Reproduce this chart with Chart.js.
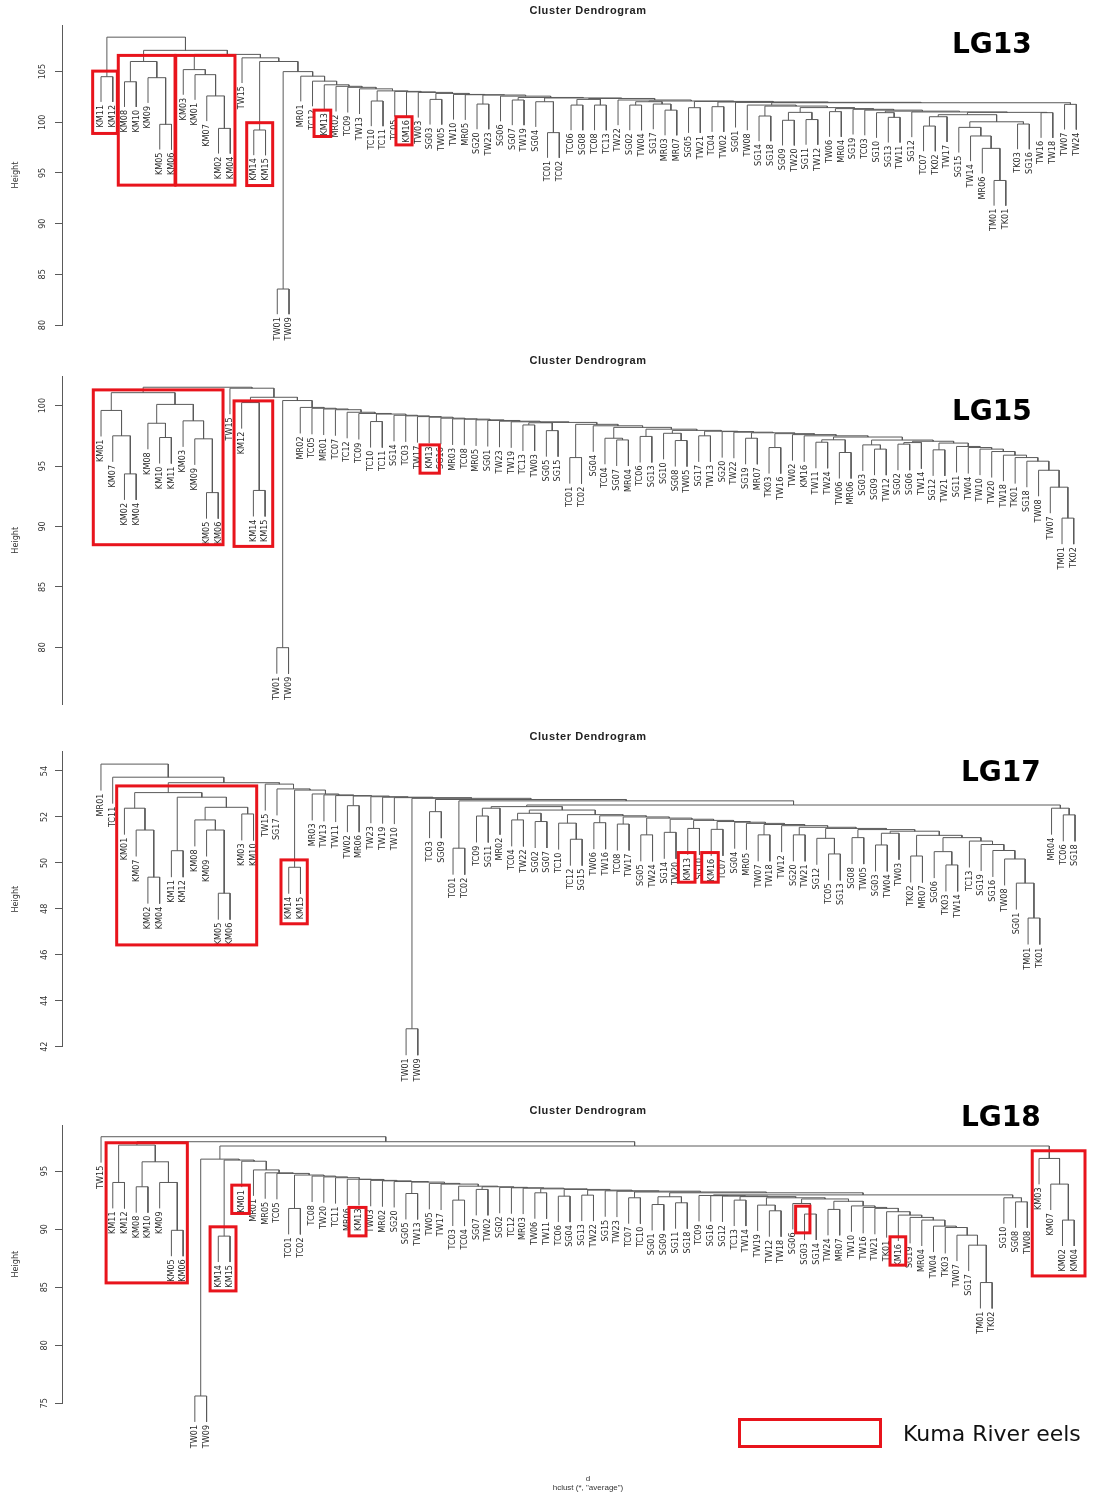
<!DOCTYPE html>
<html><head><meta charset="utf-8">
<script src="https://cdn.jsdelivr.net/npm/chart.js@4.4.1/dist/chart.umd.min.js"></script>
<style>
html,body{margin:0;padding:0;background:#fff;}
#wrap{position:relative;width:1093px;height:1494px;overflow:hidden;background:#fff;}
canvas{position:absolute;left:0;}
.ttl{position:absolute;left:488px;width:200px;text-align:center;font:bold 11px 'Liberation Sans',Arial,sans-serif;letter-spacing:0.6px;color:#222;line-height:12px;}
.lg{position:absolute;font:bold 28px 'DejaVu Sans',Verdana,sans-serif;color:#000;line-height:28px;}
.sub{position:absolute;left:488px;width:200px;text-align:center;font:8px 'Liberation Sans',Arial,sans-serif;color:#333;line-height:9px;}
#legbox{position:absolute;left:738px;top:1418px;width:138px;height:24px;border:3px solid #e8141c;}
#legtxt{position:absolute;left:903px;top:1420px;font:22px 'DejaVu Sans',Verdana,sans-serif;color:#111;line-height:27px;}
</style></head>
<body><div id="wrap">
<canvas id="c13" width="1093" height="345" style="top:0px"></canvas>
<canvas id="c15" width="1093" height="370" style="top:345px"></canvas>
<canvas id="c17" width="1093" height="380" style="top:715px"></canvas>
<canvas id="c18" width="1093" height="399" style="top:1095px"></canvas>
<div class="ttl" style="top:4px">Cluster Dendrogram</div>
<div class="ttl" style="top:354px">Cluster Dendrogram</div>
<div class="ttl" style="top:730px">Cluster Dendrogram</div>
<div class="ttl" style="top:1104px">Cluster Dendrogram</div>
<div class="lg" style="left:952px;top:30px">LG13</div>
<div class="lg" style="left:952px;top:397px">LG15</div>
<div class="lg" style="left:961px;top:758px">LG17</div>
<div class="lg" style="left:961px;top:1103px">LG18</div>
<div class="sub" style="top:1474px">d</div>
<div class="sub" style="top:1483px">hclust (*, "average")</div>
<div id="legbox"></div>
<div id="legtxt">Kuma River eels</div>
</div>
<script>
// ---------------- DATA ----------------
// Tree notation: "leaf" | [left, right, height] | chain [[item,h],[item,h],...,[lastItem]] = (item1,(item2,(...)))
const lg13Leaves = ["KM11","KM12","KM08","KM10","KM09","KM05","KM06","KM03","KM01","KM07","KM02","KM04","TW15","KM14","KM15","TW01","TW09","MR01","TC12","KM13","MR02","TC09","TW13","TC10","TC11","TC05","KM16","TW03","SG03","TW05","TW10","MR05","SG20","TW23","SG06","SG07","TW19","SG04","TC01","TC02","TC06","SG08","TC08","TC13","TW22","SG02","TW04","SG17","MR03","MR07","SG05","TW21","TC04","TW02","SG01","TW08","SG14","SG18","SG09","TW20","SG11","TW12","TW06","MR04","SG19","TC03","SG10","SG13","TW11","SG12","TC07","TK02","TW17","SG15","TW14","MR06","TM01","TK01","TK03","SG16","TW16","TW18","TW07","TW24"];
const lg13Ticks = [80,85,90,95,100,105];
const lg13KmA = ["KM11","KM12",104.5];
const lg13KmB = [["KM08","KM10",104.0],["KM09",["KM05","KM06",99.8],104.4],106.0];
const lg13KmC = ["KM03",["KM01",["KM07",["KM02","KM04",99.4],102.6],104.7],105.2];
const lg13KmD = ["KM14","KM15",99.24];
const lg13GrpA = [["TC07","TK02",99.63],"TW17",100.55];
const lg13GrpB = [["SG15",["TW14",["MR06",["TM01","TK01",94.26],97.43],98.65],99.5],["TK03","SG16",99.83],100.05];
const lg13GrpEnd = [[lg13GrpA,lg13GrpB,100.75],["TW16","TW18",100.95],100.98];
const lg13Tail = [["TW08",101.7],[["SG14","SG18",100.62],101.6],[[["SG09","TW20",100.2],["SG11","TW12",100.27],100.98],101.45],[["TW06","MR04",101.05],101.35],["SG19",101.28],["TC03",101.2],[["SG10",["SG13","TW11",100.49],100.95],101.1],["SG12",101.02],[lg13GrpEnd]];
const lg13Chain = [[lg13KmA,108.4],[lg13KmB,107.1],[lg13KmC,106.7],["TW15",106.36],[lg13KmD,106.0],[["TW01","TW09",83.55],105.0],["MR01",104.55],["TC12",104.06],["KM13",103.7],["MR02",103.55],["TC09",103.45],["TW13",103.3],[["TC10","TC11",102.1],103.1],["TC05",103.05],["KM16",103.0],["TW03",102.95],[["SG03","TW05",102.26],102.85],["TW10",102.75],["MR05",102.72],[["SG20","TW23",101.8],102.69],["SG06",102.58],[["SG07","TW19",102.2],102.45],[["SG04",["TC01","TC02",98.98],102.03],102.4],[[["TC06","SG08",101.7],["TC08","TC13",101.7],102.26],102.35],["TW22",102.2],[[["SG02","TW04",101.7],["SG17",["MR03","MR07",101.2],101.8],102.03],102.1],[["SG05","TW21",101.44],102.06],[["TC04","TW02",101.54],102.0],["SG01",101.97],[[lg13Tail,["TW07","TW24",101.77],101.93]]];
const lg13Boxes = [[-0.71,1.39,105.05,98.9],[1.47,6.30,106.6,93.8],[6.36,11.40,106.6,93.8],[12.4,14.61,99.96,93.76],[18.13,19.55,101.2,98.6],[25.1,26.47,100.55,97.77]];

const lg15Leaves = ["KM01","KM07","KM02","KM04","KM08","KM10","KM11","KM03","KM09","KM05","KM06","TW15","KM12","KM14","KM15","TW01","TW09","MR02","TC05","MR01","TC07","TC12","TC09","TC10","TC11","SG14","TC03","TW17","KM13","SG16","MR03","TC08","MR05","SG01","TW23","TW19","TC13","TW03","SG05","SG15","TC01","TC02","SG04","TC04","SG07","MR04","TC06","SG13","SG10","SG08","TW05","SG17","TW13","SG20","TW22","SG19","MR07","TK03","TW16","TW02","KM16","TW11","TW24","TW06","MR06","SG03","SG09","TW12","SG02","SG06","TW14","SG12","TW21","SG11","TW04","TW10","TW20","TW18","TK01","SG18","TW08","TW07","TM01","TK02"];
const lg15Ticks = [80,85,90,95,100];
const lg15KmL = [["KM01",["KM07",["KM02","KM04",94.35],97.5],99.6],[["KM08",["KM10","KM11",97.36],98.54],["KM03",["KM09",["KM05","KM06",92.8],97.25],98.74],100.1],101.07];
const lg15KmR = ["KM12",["KM14","KM15",92.98],100.25];
const lg15Head = [[lg15KmL,101.52],["TW15",101.44],[lg15KmR,100.69],[["TW01","TW09",79.97],100.42]];
const lg15Chain = [["MR02",99.85],["TC05",99.78],["MR01",99.72],["TC07",99.66],["TC12",99.45],["TC09",99.35],[["TC10","TC11",98.68],99.3],["SG14",99.2],["TC03",99.15],["TW17",99.09],["KM13",99.04],["SG16",98.96],["MR03",98.9],["TC08",98.88],["MR05",98.82],["SG01",98.77],["TW23",98.71],["TW19",98.66],[[["TC13","TW03",98.4],["SG05","SG15",97.93],98.58],98.61],[["TC01","TC02",95.7],98.45],["SG04",98.33],[["TC04",["SG07","MR04",97.16],97.3],98.2],[["TC06","SG13",97.45],98.05],[["SG10",["SG08","TW05",97.11],97.71],97.95],[["SG17","TW13",97.5],97.88],["SG20",97.85],["TW22",97.8],[["SG19","MR07",97.3],97.75],[["TK03","TW16",96.53],97.68],["TW02",97.6],["KM16",97.5],[[["TW11","TW24",96.97],["TW06","MR06",96.12],97.17],97.4],[["SG03",["SG09","TW12",96.4],96.75],97.15],[[["SG02","SG06",96.81],"TW14",96.94],97.05],[["SG12","TW21",96.34],96.9],["SG11",96.62],["TW04",96.53],["TW10",96.4],["TW20",96.2],["TW18",95.9],["TK01",95.7],["SG18",95.4],["TW08",94.65],["TW07",93.25],[["TM01","TK02",90.69]]];
const lg15Boxes = [[-0.66,10.41,101.3,88.49],[11.35,14.65,100.39,88.35],[27.22,28.87,96.75,94.41]];

const lg17Leaves = ["MR01","TC11","KM01","KM07","KM02","KM04","KM11","KM12","KM08","KM09","KM05","KM06","KM03","KM10","TW15","SG17","KM14","KM15","MR03","TW13","TW11","TW02","MR06","TW23","TW19","TW10","TW01","TW09","TC03","SG09","TC01","TC02","TC09","SG11","MR02","TC04","TW22","SG02","SG07","TC10","TC12","SG15","TW06","TW16","TC08","TW17","SG05","TW24","SG14","TW20","KM13","SG10","KM16","TC07","SG04","MR05","TW07","TW18","TW12","SG20","TW21","SG12","TC05","SG13","SG08","TW05","SG03","TW04","TW03","TK02","MR07","SG06","TK03","TW14","TC13","SG19","SG16","TW08","SG01","TM01","TK01","MR04","TC06","SG18"];
const lg17Ticks = [42,44,46,48,50,52,54];
const lg17KmA = [["KM01",["KM07",["KM02","KM04",49.38],51.43],52.38],[["KM11","KM12",50.53],[["KM08",["KM09",["KM05","KM06",48.68],51.43],51.87],["KM03","KM10",52.13],52.42],52.86],53.06];
const lg17KmB = ["KM14","KM15",49.81];
const lg17Head = [["MR01",54.30],["TC11",53.73],[lg17KmA,53.49],["TW15",53.43],["SG17",53.22],[lg17KmB,53.17],["MR03",53.0],["TW13",52.96],["TW11",52.93],[["TW02","MR06",52.49],52.91],["TW23",52.88],["TW19",52.86],["TW10",52.84],[["TW01","TW09",42.78],52.81],[["TC03","SG09",52.23],52.76],[["TC01","TC02",50.64],52.7]];
const lg17Block = [[[["TC09","SG11",52.04],"MR02",52.38],52.45],[[["TC04","TW22",51.87],["SG02","SG07",51.8],52.16],52.3],[["TC10",["TC12","SG15",51.03],51.73],52.1],[["TW06","TW16",51.75],52.05],[["TC08","TW17",51.69],52.0],[["SG05","TW24",51.22],51.95],[["SG14","TW20",51.33],51.9],[["KM13","SG10",51.5],51.85],[["KM16","TC07",51.46],51.8],["SG04",51.77],["MR05",51.72],[["TW07","TW18",51.22],51.67],["TW12",51.62],[["SG20","TW21",51.22],51.55],[["SG12",["TC05","SG13",50.39],51.07],51.5],[["SG08","TW05",51.1],51.45],[[["SG03","TW04",50.78],"TW03",51.29],51.38],[["TK02","MR07",50.3],51.2],[["SG06",["TK03","TW14",49.91],50.49],51.1],["TC13",50.95],["SG19",50.8],["SG16",50.54],["TW08",50.17],["SG01",49.12],[["TM01","TK01",47.6]]];
const lg17End = [lg17Block,["MR04",["TC06","SG18",52.09],52.38],52.52];
const lg17Boxes = [[1.34,13.27,53.35,46.43],[15.34,17.58,50.13,47.35],[49.2,50.62,50.45,49.16],[51.19,52.6,50.45,49.16]];

const lg18Leaves = ["TW15","KM11","KM12","KM08","KM10","KM09","KM05","KM06","TW01","TW09","KM14","KM15","KM01","MR01","MR05","TC05","TC01","TC02","TC08","TW20","TC11","MR06","KM13","TW03","MR02","SG20","SG05","TW13","TW05","TW17","TC03","TC04","SG07","TW02","SG02","TC12","MR03","TW06","TW11","TC06","SG04","SG13","TW22","SG15","TW23","TC07","TC10","SG01","SG09","SG11","SG18","TC09","SG16","SG12","TC13","TW14","TW19","TW12","TW18","SG06","SG03","SG14","TW24","MR07","TW10","TW16","TW21","TK01","KM16","SG19","MR04","TW04","TK03","TW07","SG17","TM01","TK02","SG10","SG08","TW08","KM03","KM07","KM02","KM04"];
const lg18Ticks = [75,80,85,90,95];
const lg18KmL = [["KM11","KM12",94.02],[["KM08","KM10",93.65],["KM09",["KM05","KM06",89.9],94.02],95.8],97.24];
const lg18KmM = ["KM14","KM15",89.4];
const lg18KmR = ["KM03",["KM07",["KM02","KM04",90.78],93.88],96.09];
const lg18Block = [["TC09",92.9],["SG16",92.88],["SG12",92.85],[["TC13","TW14",92.5],92.8],[["TW19",["TW12","TW18",91.58],92.07],92.7],[["SG06",["SG03","SG14",91.3],92.21],92.6],[["TW24","MR07",91.7],92.4],["TW10",92.0],["TW16",91.87],["TW21",91.79],["TK01",91.5],["KM16",91.21],["SG19",91.01],["MR04",90.78],["TW04",90.26],["TK03",90.14],["TW07",89.48],["SG17",88.62],[["TM01","TK02",85.4]]];
const lg18End = [lg18Block,["SG10",["SG08","TW08",92.35],92.7],92.95];
const lg18Body = [[lg18KmM,95.95],["KM01",95.85],["MR01",95.1],["MR05",94.85],["TC05",94.8],[["TC01","TC02",91.78],94.66],["TC08",94.57],["TW20",94.5],["TC11",94.43],["MR06",94.3],["KM13",94.28],["TW03",94.2],["MR02",94.16],["SG20",94.1],[["SG05","TW13",93.07],94.05],["TW05",93.94],["TW17",93.88],[["TC03","TC04",92.5],93.7],[["SG07","TW02",93.42],93.65],["SG02",93.6],["TC12",93.56],["MR03",93.53],[["TW06","TW11",93.13],93.47],[["TC06","SG04",92.84],93.42],[["SG13","TW22",92.93],93.36],["SG15",93.3],["TW23",93.27],[["TC07","TC10",92.7],93.2],[[["SG01","SG09",92.12],["SG11","SG18",92.27],92.79],93.13],[lg18End]];
const lg18Tree = ["TW15",[lg18KmL,[[["TW01","TW09",75.63],lg18Body,96.03],lg18KmR,97.16],97.53],97.96];
const lg18Boxes = [[0.43,7.36,97.44,85.37],[9.3,11.51,90.2,84.68],[11.15,12.65,93.79,91.35],[21.15,22.6,91.87,89.42],[59.24,60.46,91.98,89.68],[67.29,68.63,89.34,86.9],[79.42,83.92,96.75,85.97]];

// ---------------- BUILD ----------------
function build(node){
  if (typeof node === 'string') return {leaf: node};
  if (node.length === 3 && typeof node[2] === 'number') return {l: build(node[0]), r: build(node[1]), h: node[2]};
  let acc = build(node[node.length-1][0]);
  for (let i = node.length-2; i >= 0; i--) acc = {l: build(node[i][0]), r: acc, h: node[i][1]};
  return acc;
}
function layout(treeSpec, leaves){
  const root = build(treeSpec);
  const idx = {}; leaves.forEach((n,i)=>{idx[n]=i;});
  const hs = [];
  (function col(n){ if(n.leaf===undefined){ hs.push(n.h); col(n.l); col(n.r);} })(root);
  const hang = 0.1*(Math.max(...hs)-Math.min(...hs));
  (function place(n){ if(n.leaf!==undefined){ n.x = idx[n.leaf]; if(n.x===undefined) console.warn('missing',n.leaf); return; } place(n.l); place(n.r); n.x=(n.l.x+n.r.x)/2; })(root);
  const segs = [], leafPos = [];
  (function walk(n){
    if(n.leaf!==undefined) return;
    const tl = n.l.leaf!==undefined ? n.h-hang : n.l.h;
    const tr = n.r.leaf!==undefined ? n.h-hang : n.r.h;
    segs.push([{x:n.l.x,y:tl},{x:n.l.x,y:n.h},{x:n.r.x,y:n.h},{x:n.r.x,y:tr}]);
    if(n.l.leaf!==undefined) leafPos.push({name:n.l.leaf,x:n.l.x,y:n.h-hang});
    if(n.r.leaf!==undefined) leafPos.push({name:n.r.leaf,x:n.r.x,y:n.h-hang});
    walk(n.l); walk(n.r);
  })(root);
  return {segs, leafPos};
}

const NARROW = "'Liberation Sans Narrow','Arial Narrow','DejaVu Sans Condensed',sans-serif";
const RED = '#e8141c', LINE = '#5a5a5a';

const panels = [
  {id:'c13', leaves:lg13Leaves, tree:lg13Chain, ticks:lg13Ticks, boxes:lg13Boxes, yMin:80, yMax:109.6, xMin:-3.32, xMax:83.74, padTop:25, padBottom:20},
  {id:'c15', leaves:lg15Leaves, tree:lg15Head.concat(lg15Chain), ticks:lg15Ticks, boxes:lg15Boxes, yMin:75.26, yMax:102.45, xMin:-3.33, xMax:83.96, padTop:31, padBottom:10},
  {id:'c17', leaves:lg17Leaves, tree:lg17Head.concat([[lg17End]]), ticks:lg17Ticks, boxes:lg17Boxes, yMin:42, yMax:54.84, xMin:-3.32, xMax:83.85, padTop:36.7, padBottom:48.3},
  {id:'c18', leaves:lg18Leaves, tree:lg18Tree, ticks:lg18Ticks, boxes:lg18Boxes, yMin:75, yMax:98.97, xMin:-3.33, xMax:83.92, padTop:30, padBottom:90.7}
];

const overlay = {
  id:'dendroOverlay',
  afterDatasetsDraw(chart, args, opts){
    const {ctx, scales:{x,y}} = chart;
    ctx.save();
    ctx.fillStyle = '#2a2a2a';
    ctx.font = '9px ' + NARROW;
    ctx.textAlign = 'right';
    ctx.textBaseline = 'middle';
    opts.leafPos.forEach(p=>{
      const px = x.getPixelForValue(p.x), py = y.getPixelForValue(p.y) + 3;
      ctx.save(); ctx.translate(px, py); ctx.rotate(-Math.PI/2); ctx.fillText(p.name, 0, 0); ctx.restore();
    });
    ctx.strokeStyle = RED; ctx.lineWidth = 3;
    opts.boxes.forEach(b=>{
      const x0 = x.getPixelForValue(b[0]), x1 = x.getPixelForValue(b[1]);
      const y0 = y.getPixelForValue(b[2]), y1 = y.getPixelForValue(b[3]);
      ctx.strokeRect(x0, y0, x1-x0, y1-y0);
    });
    ctx.restore();
  }
};

panels.forEach(P=>{
  const L = layout(P.tree, P.leaves);
  const datasets = L.segs.map(s=>({data:s, borderColor:LINE, borderWidth:1, pointRadius:0, fill:false, tension:0, clip:false}));
  new Chart(document.getElementById(P.id), {
    type:'line',
    data:{datasets},
    options:{
      responsive:false, animation:false, events:[],
      layout:{padding:{top:P.padTop, bottom:P.padBottom, left:0, right:8}},
      plugins:{legend:{display:false}, tooltip:{enabled:false}, title:{display:false},
        dendroOverlay:{leafPos:L.leafPos, boxes:P.boxes}},
      scales:{
        x:{type:'linear', display:false, min:P.xMin, max:P.xMax},
        y:{type:'linear', min:P.yMin, max:P.yMax,
          afterBuildTicks:(s)=>{ s.ticks = P.ticks.map(v=>({value:v})); },
          afterFit:(s)=>{ s.width = 62; },
          border:{display:true, color:LINE, width:1},
          grid:{display:true, drawOnChartArea:false, drawTicks:true, tickLength:7, tickColor:LINE, tickWidth:1},
          ticks:{minRotation:90, maxRotation:90, crossAlign:'center', padding:5, color:'#333', font:{family:NARROW, size:9}},
          title:{display:true, text:'Height', color:'#333', font:{family:NARROW, size:9}, padding:{top:10, bottom:0}}
        }
      }
    },
    plugins:[overlay]
  });
});
</script>
</body></html>
